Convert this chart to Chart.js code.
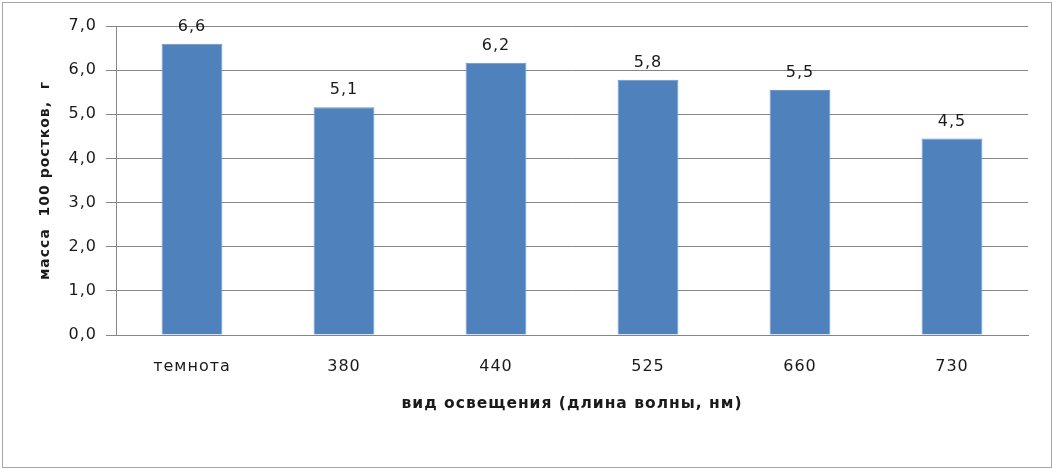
<!DOCTYPE html>
<html>
<head>
<meta charset="utf-8">
<script src="https://cdn.jsdelivr.net/npm/chart.js@4"></script>
<style>
  html, body { margin: 0; padding: 0; background: #fff; }
  #wrap { position: absolute; left: 0; top: 0; width: 1053px; height: 469px; }
  #frame { position: absolute; left: 2px; top: 2px; width: 1048px; height: 464px; border: 1px solid #a6a6a6; pointer-events: none; }
</style>
</head>
<body>
<div id="wrap">
  <canvas id="chart" width="1053" height="469"></canvas>
  <div id="frame"></div>
</div>
<script>
const categories = ["темнота", "380", "440", "525", "660", "730"];
const values = [6.6, 5.16, 6.17, 5.78, 5.55, 4.45];
const valueLabels = ["6,6", "5,1", "6,2", "5,8", "5,5", "4,5"];
const yTicks = [0, 1, 2, 3, 4, 5, 6, 7];

const FONT = "'DejaVu Sans', Verdana, sans-serif";

// the original text is a bit wider than DejaVu, so spread letters by 1px
const spacing = {
    id: 'spacing',
    beforeLayout(chart){ chart.ctx.letterSpacing = '1px'; },
    beforeDraw(chart){ chart.ctx.letterSpacing = '1px'; }
};

// labels above bars
const barLabels = {
    id: 'barLabels',
    afterDatasetsDraw(chart){
        const ctx = chart.ctx;
        const meta = chart.getDatasetMeta(0);
        ctx.save();
        ctx.font = "16px " + FONT;
        ctx.fillStyle = "#1a1a1a";
        ctx.textAlign = "center";
        ctx.textBaseline = "middle";
        meta.data.forEach((bar, i) => {
            ctx.fillText(valueLabels[i], bar.x, bar.y - 17);
        });
        ctx.restore();
    }
};

new Chart(document.getElementById("chart").getContext("2d"), {
    type: 'bar',
    data: {
        labels: categories,
        datasets: [{
            data: values,
            backgroundColor: '#4f81bd',
            borderColor: '#6b96c9',
            borderWidth: 1,
            categoryPercentage: 1,
            barPercentage: 0.4
        }]
    },
    options: {
        responsive: false,
        animation: false,
        layout: { padding: { top: 26, right: 25, left: 0, bottom: 0 } },
        plugins: {
            legend: { display: false },
            tooltip: { enabled: false }
        },
        scales: {
            x: {
                afterFit(scale){ scale.height = 134; },
                grid: { display: false },
                border: { color: '#868686', width: 1 },
                ticks: { color: '#1a1a1a', font: { family: FONT, size: 16 }, padding: 14 },
                title: {
                    display: true,
                    text: 'вид освещения (длина волны, нм)',
                    color: '#1a1a1a',
                    font: { family: FONT, size: 15.5, weight: 'bold' },
                    padding: { top: 10, bottom: 56 }
                }
            },
            y: {
                min: 0,
                max: 7,
                afterFit(scale){ scale.width = 116; },
                afterBuildTicks(scale){ scale.ticks = yTicks.map(v => ({ value: v })); },
                grid: { color: '#868686', tickLength: 10, drawTicks: true },
                border: { color: '#868686', width: 1 },
                ticks: {
                    color: '#1a1a1a',
                    font: { family: FONT, size: 16 },
                    padding: 9,
                    callback: v => v.toFixed(1).replace('.', ',')
                },
                title: {
                    display: true,
                    text: 'масса  100 ростков,  г',
                    color: '#1a1a1a',
                    font: { family: FONT, size: 14, weight: 'bold' },
                    padding: { top: 37, bottom: 0 }
                }
            }
        }
    },
    plugins: [spacing, barLabels]
});
</script>
</body>
</html>
